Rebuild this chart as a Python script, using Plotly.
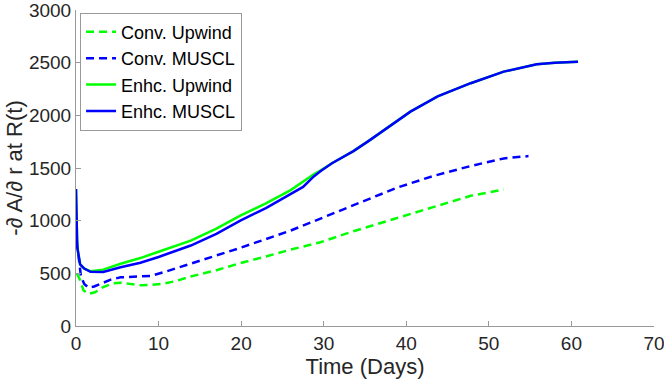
import plotly.graph_objects as go

# Conv. Upwind (dashed green)
t_conv_up = [0.1, 0.5, 0.9, 1.5, 2.3, 3.3, 4.5, 5.5, 6.5, 7.8, 9, 10.5, 12, 13.9,
             17, 19.9, 23, 26, 29.6, 33.6, 38.5, 43, 47.8, 51.8]
v_conv_up = [500, 434, 340, 305, 320, 370, 405, 410, 400, 387, 390, 400, 425, 470,
             530, 597, 660, 725, 795, 900, 1016, 1126, 1236, 1295]

# Conv. MUSCL (dashed blue)
t_conv_mu = [0.1, 0.3, 0.6, 1, 1.5, 2.2, 3, 4.2, 5.4, 7, 9, 11, 13.9, 17, 19.9,
             23, 26, 28.5, 31.2, 34.4, 38.9, 43.3, 47.8, 51.8, 54.8]
v_conv_mu = [800, 650, 470, 400, 365, 375, 400, 440, 462, 470, 475, 520, 591, 665, 742,
             825, 906, 985, 1069, 1173, 1314, 1425, 1519, 1591, 1613]

# Enhc. Upwind (solid green)
t_enh_up = [0, 0.15, 0.5, 1, 1.75, 3.3, 5.4, 7.8, 10, 13.9, 17, 19.9, 23, 26, 28.8,
            29.6, 31, 33.6, 35.5, 37.7, 40.5, 43.8, 47.8, 51.8, 55.8, 58, 60.8]
v_enh_up = [1300, 750, 585, 545, 520, 535, 591, 645, 705, 811, 925, 1047, 1165, 1290, 1440,
            1475, 1545, 1660, 1760, 1880, 2035, 2180, 2305, 2415, 2484, 2500, 2509]

# Enhc. MUSCL (solid blue)
t_enh_mu = [0, 0.15, 0.5, 1, 1.75, 3.3, 5.4, 7.8, 10, 13.9, 17, 19.9, 23, 26, 27.5,
            28.8, 29.6, 31, 33.6, 35.5, 37.7, 40.5, 43.8, 47.8, 51.8, 55.8, 58, 60.8]
v_enh_mu = [1300, 750, 585, 545, 515, 512, 558, 600, 655, 764, 875, 1000, 1120, 1252, 1320,
            1420, 1470, 1545, 1660, 1760, 1880, 2035, 2180, 2305, 2415, 2484, 2500, 2509]

x_ticks = [0, 10, 20, 30, 40, 50, 60, 70]
y_ticks = [0, 500, 1000, 1500, 2000, 2500, 3000]

GREEN = '#00ff00'
BLUE = '#0000ff'
DASH = '8px,5px'
FONT = 'Liberation Sans'

fig = go.Figure()
fig.add_trace(go.Scatter(x=t_conv_up, y=v_conv_up, mode='lines', name='Conv. Upwind',
                         line=dict(color=GREEN, width=2.5, dash=DASH)))
fig.add_trace(go.Scatter(x=t_conv_mu, y=v_conv_mu, mode='lines', name='Conv. MUSCL',
                         line=dict(color=BLUE, width=2.5, dash=DASH)))
fig.add_trace(go.Scatter(x=t_enh_up, y=v_enh_up, mode='lines', name='Enhc. Upwind',
                         line=dict(color=GREEN, width=2.5)))
fig.add_trace(go.Scatter(x=t_enh_mu, y=v_enh_mu, mode='lines', name='Enhc. MUSCL',
                         line=dict(color=BLUE, width=2.5)))

axis_style = dict(
    showline=True, linecolor='#999999', linewidth=1, mirror=False,
    ticks='inside', ticklen=5, tickcolor='#999999',
    showgrid=False, zeroline=False, automargin=False,
    ticklabeloverflow='allow',
    tickfont=dict(family=FONT, size=19, color='#262626'),
)

fig.update_layout(
    width=664, height=384,
    margin=dict(l=76, r=10, t=10, b=58),
    paper_bgcolor='white', plot_bgcolor='white',
    font=dict(family=FONT, color='#262626'),
    xaxis=dict(range=[0, 70], tickvals=x_ticks,
               title=dict(text='Time (Days)', font=dict(family=FONT, size=22), standoff=0),
               **axis_style),
    yaxis=dict(range=[0, 3000], tickvals=y_ticks,
               title=dict(text='-<i>∂</i> A/<i>∂</i> r at R(t)',
                          font=dict(family=FONT, size=22), standoff=0),
               **axis_style),
    legend=dict(x=0.007, y=0.992, xanchor='left', yanchor='top',
                bgcolor='white', bordercolor='#999999', borderwidth=1,
                font=dict(family=FONT, size=18, color='black'), itemwidth=30,
                tracegroupgap=0),
    showlegend=True,
)

fig.write_html("out.html", config={'displayModeBar': False},
               post_script="document.body.style.margin='0px';")
